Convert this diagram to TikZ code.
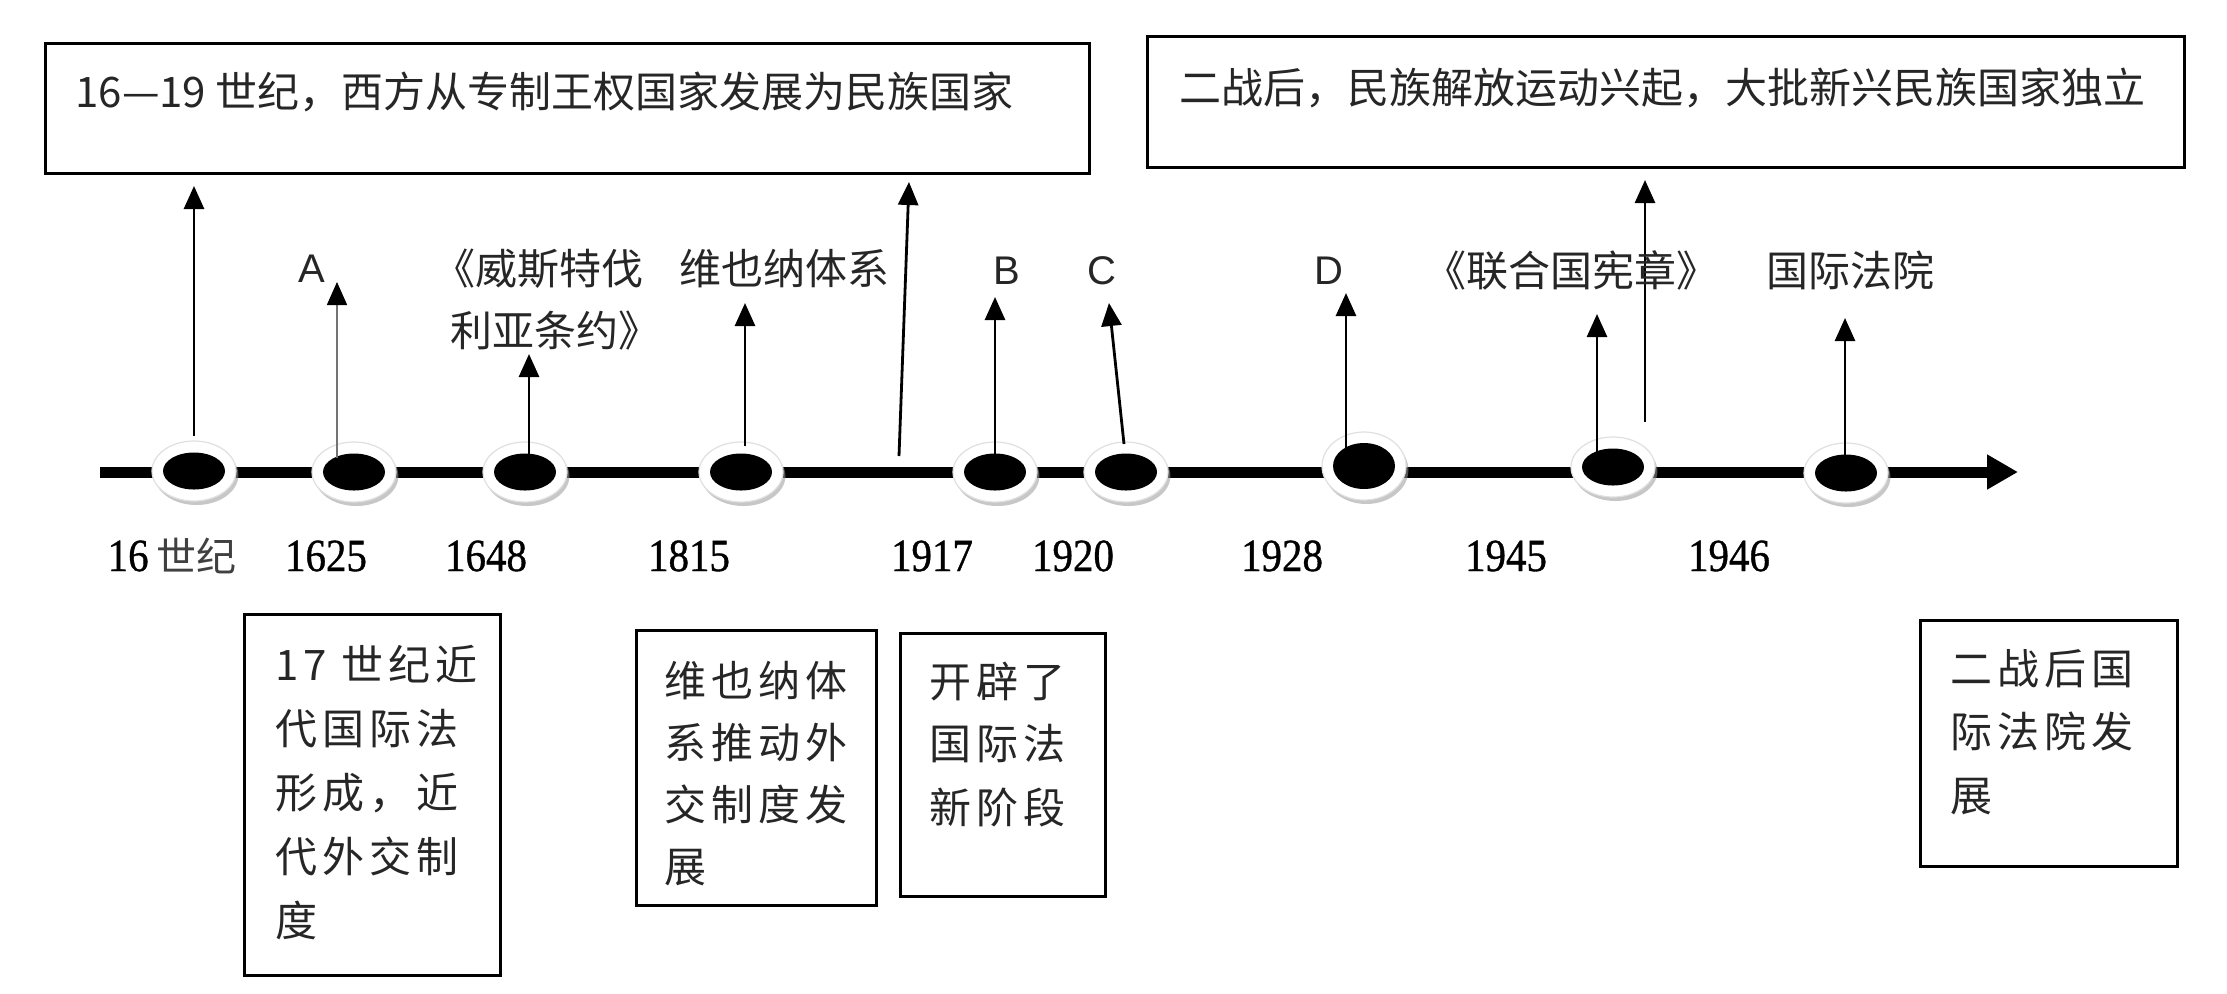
\documentclass[tikz,border=0pt]{standalone}
\usepackage{fontspec}
\setmainfont{Liberation Serif}
\newfontfamily\cjk{Noto Sans CJK SC}
\newfontfamily\cjksp[LetterSpace=12]{Noto Sans CJK SC}
\newfontfamily\yr[FakeStretch=0.89,FakeBold=0.8]{Liberation Serif}
\newfontfamily\lat{Liberation Sans}
\usetikzlibrary{arrows.meta,shapes.geometric,shadows}
\begin{document}
\begin{tikzpicture}[x=0.5pt,y=-0.5pt,
  frame/.style={draw=black, line width=1.5pt, rectangle, inner sep=0pt},
  txt/.style={anchor=base west, inner sep=0pt, text=black!85, font=\cjk\fontsize{21pt}{25pt}\selectfont},
  boxtxt/.style={anchor=base west, inner sep=0pt, text=black!85, font=\cjksp\fontsize{21pt}{25pt}\selectfont},
  lab/.style={anchor=base, inner sep=0pt, text=black!85, font=\cjk\fontsize{21pt}{25pt}\selectfont},
  letter/.style={anchor=base, inner sep=0pt, text=black!85, font=\lat\fontsize{20pt}{24pt}\selectfont},
  year/.style={anchor=base, inner sep=0pt, text=black, font=\yr\fontsize{23pt}{28pt}\selectfont},
  ring/.style={ellipse, minimum width=42pt, minimum height=30pt, fill=white, draw=black!12, line width=0.6pt,
    drop shadow={shadow xshift=1.2pt, shadow yshift=-2pt, fill=black!40, opacity=0.55}},
  dot/.style={ellipse, minimum width=31pt, minimum height=18.5pt, fill=black, inner sep=0pt},
  arr/.style={line width=1.4pt, black, -{Triangle[length=11.5pt,width=10pt]}},
  thinarr/.style={line width=0.8pt, black!55, -{Triangle[length=11.5pt,width=10pt,fill=black,color=black]}},
  timeline/.style={line width=5.5pt, black, -{Triangle[length=15.5pt,width=16.5pt]}}
]
\useasboundingbox (0,0) rectangle (2227,993);
\fill[white] (0,0) rectangle (2227,993);

% ---------- top boxes ----------
\node[frame, minimum width=522pt, minimum height=65pt] (box1) at (567,108) {};
\node[txt] (box1t) at (75,107) {16—19 世纪，西方从专制王权国家发展为民族国家};
\node[frame, minimum width=518.5pt, minimum height=65.5pt] (box2) at (1665.5,101.5) {};
\node[txt] (box2t) at (1179,103) {二战后，民族解放运动兴起，大批新兴民族国家独立};

% ---------- timeline ----------
\coordinate (tl0) at (100,472);
\coordinate (tl1) at (2018,472);
\draw[timeline] (tl0) -- (tl1);

% rings and dots
\foreach \n/\x/\y in {1/194/471, 2/354/472, 3/525/472, 4/741/472, 5/995/472, 6/1126/472, 8/1613/467, 9/1846/473}{
  \node[ring] (r\n) at (\x,\y) {};
  \node[dot] (d\n) at (\x,\y) {};
}
\node[ring, minimum height=34pt] (r7) at (1364,466) {};
\node[dot, minimum height=23pt] (d7) at (1364,466) {};

% ---------- upward arrows ----------
\coordinate (a1s) at (194,436);   \coordinate (a1e) at (194,186);
\coordinate (aAs) at (337,458);   \coordinate (aAe) at (337,282);
\coordinate (a3s) at (529,454);   \coordinate (a3e) at (529,354);
\coordinate (a4s) at (745,446);   \coordinate (a4e) at (745,303);
\coordinate (a5s) at (899,456);   \coordinate (a5e) at (909,182);
\coordinate (aBs) at (995,456);   \coordinate (aBe) at (995,297);
\coordinate (aCs) at (1124,444);  \coordinate (aCe) at (1109,303);
\coordinate (aDs) at (1346,448);  \coordinate (aDe) at (1346,293);
\coordinate (a8s) at (1597,452);  \coordinate (a8e) at (1597,314);
\coordinate (a9s) at (1645,422);  \coordinate (a9e) at (1645,180);
\coordinate (a10s) at (1845,460); \coordinate (a10e) at (1845,318);

\draw[arr] (a1s) -- (a1e);
\draw[thinarr] (aAs) -- (aAe);
\draw[arr] (a3s) -- (a3e);
\draw[arr] (a4s) -- (a4e);
\draw[arr] (a5s) -- (a5e);
\draw[arr] (aBs) -- (aBe);
\draw[arr] (aCs) -- (aCe);
\draw[arr] (aDs) -- (aDe);
\draw[arr] (a8s) -- (a8e);
\draw[arr] (a9s) -- (a9e);
\draw[arr] (a10s) -- (a10e);

% ---------- labels above ----------
\node[letter] (lA) at (312,282) {A};
\node[txt] (lW1) at (433,284) {《威斯特伐};
\node[txt] (lW2) at (450,346) {利亚条约》};
\node[lab] (lV) at (784,284) {维也纳体系};
\node[letter] (lB) at (1007,284) {B};
\node[letter] (lC) at (1102,284) {C};
\node[letter] (lD) at (1329,284) {D};
\node[lab] (lU) at (1571,286) {《联合国宪章》};
\node[lab] (lI) at (1850,286) {国际法院};

% ---------- years ----------
\node[year] (y1) at (172,571) {16\,{\cjk\fontsize{20pt}{24pt}\selectfont\color{black!75}世纪}};
\node[year] (y2) at (326,571) {1625};
\node[year] (y3) at (486,571) {1648};
\node[year] (y4) at (689,571) {1815};
\node[year] (y5) at (932,571) {1917};
\node[year] (y6) at (1073,571) {1920};
\node[year] (y7) at (1282,571) {1928};
\node[year] (y8) at (1506,571) {1945};
\node[year] (y9) at (1729,571) {1946};

% ---------- bottom boxes ----------
\node[frame, minimum width=128pt, minimum height=180.5pt] (bA) at (372,794.5) {};
\node[boxtxt] (bA1) at (275,680) {17 世纪近};
\node[boxtxt] (bA2) at (275,744) {代国际法};
\node[boxtxt] (bA3) at (275,808) {形成，近};
\node[boxtxt] (bA4) at (275,872) {代外交制};
\node[boxtxt] (bA5) at (275,936) {度};

\node[frame, minimum width=120pt, minimum height=137.5pt] (bV) at (756,767.5) {};
\node[boxtxt] (bV1) at (664,696) {维也纳体};
\node[boxtxt] (bV2) at (664,758) {系推动外};
\node[boxtxt] (bV3) at (664,820) {交制度发};
\node[boxtxt] (bV4) at (664,882) {展};

\node[frame, minimum width=102.5pt, minimum height=131.5pt] (bK) at (1002.5,764.5) {};
\node[boxtxt] (bK1) at (929,697) {开辟了};
\node[boxtxt] (bK2) at (929,759) {国际法};
\node[boxtxt] (bK3) at (929,823) {新阶段};

\node[frame, minimum width=128.5pt, minimum height=123pt] (bI) at (2048.5,743) {};
\node[boxtxt] (bI1) at (1950,684) {二战后国};
\node[boxtxt] (bI2) at (1950,747) {际法院发};
\node[boxtxt] (bI3) at (1950,811) {展};
\end{tikzpicture}
\end{document}
